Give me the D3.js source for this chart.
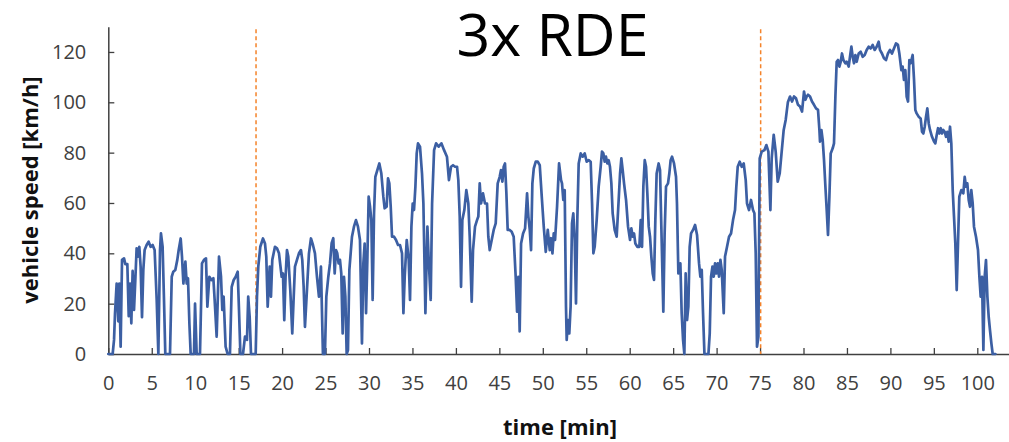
<!DOCTYPE html>
<html>
<head>
<meta charset="utf-8">
<script src="https://cdn.jsdelivr.net/npm/d3@7/dist/d3.min.js"></script>
<style>
  html, body { margin: 0; padding: 0; background: #ffffff; }
  svg { display: block; }
</style>
</head>
<body>
<svg id="chart" width="1009" height="442"></svg>
<script>
// ---- data ----
const chartTitle = "3x RDE";
const xAxisTitle = "time [min]";
const yAxisTitle = "vehicle speed [km/h]";
const xTicks = [0,5,10,15,20,25,30,35,40,45,50,55,60,65,70,75,80,85,90,95,100];
const yTicks = [0,20,40,60,80,100,120];
const phaseBoundaries = [17.0, 75.07]; // minutes
// [time (min), speed (km/h)]
const speedTrace = [
[0,0],[0.5,0],[0.66,5.6],[0.77,16],[0.96,28],[1.15,13],[1.27,28],[1.42,2.9],[1.58,37.4],[1.81,38],[1.96,35.7],[2.19,35.7],[2.35,15],[2.5,28],[2.65,12.2],[2.8,33],[2.96,17.5],[3.11,29.4],[3.26,42],[3.42,38.7],[3.57,42.6],[3.72,34.7],[3.88,14.6],[4.03,33.4],[4.18,41.3],[4.41,43.3],[4.64,44.6],[4.87,42.6],[5.1,43.3],[5.33,41.3],[5.57,21.4],[5.76,0],[5.95,41.3],[6.06,47.9],[6.25,42.6],[6.41,21.4],[6.56,0],[7.1,0],[7.3,30.7],[7.48,32.7],[7.71,33.4],[7.94,37.4],[8.1,41.3],[8.33,45.9],[8.48,38.7],[8.64,28],[8.87,36.7],[9.02,28],[9.17,30.1],[9.33,12.2],[9.48,0],[9.86,0],[9.98,20],[10.17,0],[10.55,0],[10.78,36],[11.01,37.4],[11.24,38],[11.4,18.8],[11.63,30.7],[11.86,29.4],[12.09,30.1],[12.24,21.4],
[12.47,6.9],[12.74,38.7],[12.97,30.7],[13.12,17.5],[13.27,22.8],[13.5,2.9],[13.73,0],[14.0,0],[14.2,26.7],[14.43,29.4],[14.66,30.7],[14.89,32.7],[15.04,17.5],[15.2,0],[15.5,0],[15.73,6.9],[15.96,5.6],[16.1,22.8],[16.27,14.6],[16.42,0],[16.96,0],[17.11,22.8],[17.26,34.7],[17.49,42.6],[17.8,45.9],[18.03,43.9],[18.18,38.7],[18.34,18.8],[18.57,34.7],[18.72,22.8],[18.87,37.4],[19.18,42.6],[19.41,42],[19.64,40],[19.95,30.7],[20.1,32],[20.25,13.4],[20.4,30.7],[20.56,41.3],[20.71,38.7],[20.94,25.5],[21.17,8.2],[21.32,21.4],[21.48,34.7],[21.71,37.4],[21.94,40],[22.17,41.3],[22.32,37.4],[22.48,26.7],[22.63,10.8],[22.86,25.5],[23.09,40],[23.32,45.9],[23.55,43.3],[23.78,40],[24.01,30.7],[24.24,22.8],[24.47,34.7],[24.7,0],[24.93,0],[25.09,22.8],[25.32,30.7],
[25.51,36],[25.7,44],[25.89,46],[26.05,32],[26.2,41.3],[26.35,40],[26.5,36],[26.66,37.4],[26.81,32],[26.97,8.2],[27.12,30.7],[27.28,22.8],[27.43,0],[27.58,1.6],[27.74,33.4],[27.89,40],[28.04,46.6],[28.27,50.6],[28.5,53.2],[28.73,50.6],[28.96,45.3],[29.19,4.2],[29.35,36],[29.5,43.9],[29.66,16.2],[29.81,37.4],[29.96,62.5],[30.12,58.5],[30.27,53.2],[30.42,21.5],[30.58,55.9],[30.73,70.4],[30.96,73.1],[31.19,75.7],[31.42,71.7],[31.65,62.5],[31.8,57.9],[32.03,58.5],[32.19,69.8],[32.34,67.8],[32.5,58.5],[32.65,46.6],[32.88,46.6],[33.11,45.3],[33.34,43.3],[33.57,43.3],[33.8,40],[33.96,16.2],[34.11,30.7],[34.34,45.3],[34.57,37.4],[34.72,21.5],[34.88,50.6],[35.03,59.8],[35.18,57.2],[35.34,66.5],[35.49,79.7],[35.64,83.7],[35.87,82.4],[36.1,71.7],[36.26,59.8],[36.49,16.2],[36.72,50.6],[36.87,37.4],[37.1,21.5],[37.26,59.8],[37.49,81],[37.72,83.7],[38.02,82.4],[38.33,83.7],[38.64,81],
[38.97,78.4],[39.2,69.1],[39.44,74.4],[39.67,75],[39.9,74.4],[40.13,74.4],[40.28,69.1],[40.44,54.6],[40.59,26.7],[40.74,53.2],[40.97,57.2],[41.2,65.1],[41.43,59.8],[41.59,46.6],[41.82,20.8],[41.97,41.3],[42.2,50.6],[42.43,53.2],[42.58,54.6],[42.74,67.8],[42.89,59.8],[43.12,63.8],[43.35,59.8],[43.58,59.8],[43.73,46.6],[43.89,41.3],[44.12,45.3],[44.35,49.3],[44.58,51.9],[44.81,67.8],[45.04,70.4],[45.19,73.1],[45.35,68.5],[45.5,74.4],[45.65,75.7],[45.81,63.8],[45.96,49.3],[46.19,49.3],[46.42,48.6],[46.65,46.6],[46.88,30.7],[47.04,16.8],[47.19,30.7],[47.34,9],[47.5,43.9],[47.73,47.9],[47.96,49.9],[48.19,63.8],[48.34,54.6],[48.5,49.3],[48.65,41.3],[48.8,67.8],[48.96,73.7],[49.19,76.4],[49.42,76.4],[49.65,75],[49.88,62.5],[50.11,50.6],[50.34,40.6],[50.57,49.3],[50.8,41.3],[50.95,46],[51.11,40],[51.26,47.9],[51.41,45.3],[51.64,58.5],[51.87,75.7],[52.1,69.1],
[52.21,67.8],[52.36,61.2],[52.52,65.1],[52.67,18.8],[52.75,5.6],[52.9,13.5],[53.05,8.2],[53.2,18.8],[53.36,51.9],[53.51,55.9],[53.67,45.3],[53.82,20.1],[53.97,53.2],[54.13,75.7],[54.36,79.7],[54.59,78.4],[54.82,79.7],[55.05,76.4],[55.28,77],[55.51,76.4],[55.67,59.8],[55.82,40],[55.97,42.6],[56.2,53.2],[56.43,66.5],[56.66,74.4],[56.81,80.4],[56.97,79.7],[57.12,76.4],[57.27,78.4],[57.43,75.7],[57.58,77],[57.73,74.4],[57.89,67.8],[58.04,55.9],[58.27,49.3],[58.5,46.6],[58.73,61.2],[58.89,71.7],[59.04,77.7],[59.19,73.1],[59.35,67.8],[59.58,61.2],[59.81,50.6],[60.04,45.3],[60.19,49.9],[60.35,46.6],[60.5,47.9],[60.65,43.9],[60.88,42.6],[61.11,42.6],[61.27,53.2],[61.42,42.6],[61.57,66.5],[61.73,77],[61.88,74.4],[62.03,63.8],[62.19,50.6],[62.34,46.6],[62.49,38.7],[62.65,32],[62.8,29.4],[62.95,53.2],[63.1,71.7],[63.33,75.7],[63.49,73.1],[63.64,50.6],[63.87,16.8],[64.02,47.9],[64.18,66.5],[64.41,67.8],[64.56,71.7],[64.71,77],[64.87,78.4],[65.1,75.7],[65.33,70.4],
[65.44,59.8],[65.6,32],[65.83,36],[65.98,16.2],[66.14,5.6],[66.29,0],[66.44,32],[66.6,13.5],[66.75,18.8],[66.9,42.6],[67.06,47.9],[67.29,49.3],[67.52,51.3],[67.75,47.3],[67.98,36],[68.13,30.7],[68.29,33.4],[68.44,16.2],[68.6,0],[69.06,0],[69.21,8.2],[69.36,30.7],[69.52,34.7],[69.67,30.7],[69.82,36],[69.98,32],[70.13,36],[70.28,30.7],[70.44,37.4],[70.59,33.4],[70.82,16.2],[70.97,38.7],[71.2,42.6],[71.43,46.6],[71.66,47.9],[71.89,53.2],[72.12,57.2],[72.27,66.5],[72.43,74.4],[72.66,76.4],[72.89,74.4],[73.12,75.7],[73.35,69.1],[73.5,59.8],[73.73,57.2],[73.96,61.2],[74.19,57.2],[74.35,55.9],[74.5,40],[74.65,2.9],[74.81,6.9],[74.96,77.7],[75.19,80.4],[75.5,81],[75.73,83],[75.96,80.4],[76.19,57.2],[76.34,77.7],[76.57,87.1],[76.8,80.4],[77.03,68.5],[77.26,71.7],[77.49,80.4],[77.72,89],[77.95,93],[78.2,100],
[78.45,102.3],[78.68,100.3],[78.91,102.3],[79.14,101.6],[79.37,99],[79.6,98.3],[79.83,96.3],[80.06,104.3],[80.22,101],[80.37,102.3],[80.52,103],[80.75,102.3],[80.98,100.3],[81.21,99],[81.44,97.6],[81.67,97],[81.83,89],[81.9,84.4],[82.06,89],[82.21,85],[82.36,77.1],[82.52,66.5],[82.67,57.2],[82.82,47.3],[82.98,62.5],[83.13,79.7],[83.36,81.7],[83.51,83.7],[83.67,102.3],[83.82,116.1],[83.97,116.8],[84.13,114.2],[84.28,116.1],[84.43,119.4],[84.59,116.8],[84.82,115.5],[84.97,116.1],[85.2,114.2],[85.35,118.1],[85.51,122.1],[85.66,118.1],[85.81,115.5],[85.97,118.8],[86.12,116.1],[86.35,119.4],[86.58,120.1],[86.81,118.1],[87.04,118.8],[87.27,120.8],[87.5,122.1],[87.73,121.4],[87.96,122.8],[88.19,120.8],[88.42,122.1],[88.65,124.1],[88.8,120.8],[89.03,119.4],[89.26,117.5],[89.49,116.8],[89.72,119.4],[89.95,120.8],[90.18,119.4],[90.41,121.4],[90.64,123.4],[90.87,122.8],[91.03,119.4],
[91.26,112.8],[91.41,114.2],[91.56,108.9],[91.72,112.8],[91.87,102.3],[92.03,100.3],[92.18,116.8],[92.33,115.5],[92.56,118.8],[92.72,108.9],[92.87,96.9],[93.02,95.6],[93.25,94.3],[93.48,93.6],[93.64,88.3],[93.79,87.6],[93.95,90.3],[94.1,94.3],[94.25,97.6],[94.41,91.6],[94.56,89],[94.79,86.3],[95.02,84.4],[95.17,83.7],[95.33,87],[95.48,89.7],[95.63,87.6],[95.79,89.7],[95.94,87.6],[96.09,89],[96.25,88.3],[96.4,86.3],[96.55,88.3],[96.71,84.4],[96.86,90.3],[97.01,83.7],[97.17,65.1],[97.32,54.6],[97.47,44],[97.63,25.4],[97.78,44],[97.93,62.5],[98.16,65.1],[98.39,63.8],[98.55,70.4],[98.7,66.5],[98.85,67.8],[99.01,61.2],[99.16,58.5],[99.31,65.1],[99.47,59.8],[99.62,50.6],[99.85,46.6],[100.08,41.3],[100.24,30.7],[100.39,22.8],[100.54,30.7],[100.7,1.6],[100.85,30.7],[101.0,37.3],[101.16,22.8],[101.31,14.8],[101.46,9.5],[101.62,4.2],[101.77,0],[102.08,0]
];

// ---- layout ----
const W = 1009, H = 442;
const x0 = 108.3, pxPerMin = 8.69;
const yBottom = 354, yTop = 26.8;
const svg = d3.select("#chart");
svg.append("rect").attr("width", W).attr("height", H).attr("fill", "#ffffff");

const x = d3.scaleLinear().domain([0, 105]).range([x0, x0 + 105 * pxPerMin]);
const y = d3.scaleLinear().domain([0, 130]).range([yBottom, yTop]);

const axisColor = "#404040";
const tickFont = "'Open Sans', sans-serif";

// x axis (ticks inside)
const gx = svg.append("g").attr("transform", `translate(0,${yBottom})`)
  .call(d3.axisBottom(x).tickValues(xTicks).tickSizeInner(-6).tickSizeOuter(0).tickPadding(22).tickFormat(d3.format("d")));
gx.select(".domain").attr("stroke", axisColor).attr("stroke-width", 1.5);
gx.selectAll(".tick line").attr("stroke", axisColor).attr("stroke-width", 1.3);
gx.selectAll(".tick text").attr("font-family", tickFont).attr("font-size", 20).attr("fill", "#404040");

// y axis (ticks inside)
const gy = svg.append("g").attr("transform", `translate(${x0},0)`)
  .call(d3.axisLeft(y).tickValues(yTicks).tickSizeInner(-6).tickSizeOuter(0).tickPadding(22).tickFormat(d3.format("d")));
gy.select(".domain").attr("stroke", axisColor).attr("stroke-width", 1.5);
gy.selectAll(".tick line").attr("stroke", axisColor).attr("stroke-width", 1.3);
gy.selectAll(".tick text").attr("font-family", tickFont).attr("font-size", 20).attr("fill", "#404040");

// phase boundary dashed lines
svg.append("g").selectAll("line").data(phaseBoundaries).join("line")
  .attr("x1", d => x(d)).attr("x2", d => x(d))
  .attr("y1", y(129)).attr("y2", y(0))
  .attr("stroke", "#F4832A").attr("stroke-width", 1.5).attr("stroke-dasharray", "4,3");

// speed trace
const line = d3.line().x(d => x(d[0])).y(d => y(d[1])).curve(d3.curveLinear);
svg.append("path").datum(speedTrace)
  .attr("d", line).attr("fill", "none")
  .attr("stroke", "#3C5FA3").attr("stroke-width", 2.7)
  .attr("stroke-linejoin", "round").attr("stroke-linecap", "round");

// titles
svg.append("text").text(chartTitle)
  .attr("x", 552.5).attr("y", 56).attr("text-anchor", "middle")
  .attr("font-family", "'Open Sans', sans-serif").attr("font-size", 59).attr("fill", "#000");

svg.append("text").text(xAxisTitle)
  .attr("x", 560).attr("y", 435).attr("text-anchor", "middle")
  .attr("font-family", tickFont).attr("font-weight", "bold").attr("font-size", 22).attr("fill", "#111");

svg.append("text").text(yAxisTitle)
  .attr("transform", "translate(38,190) rotate(-90)").attr("text-anchor", "middle")
  .attr("font-family", tickFont).attr("font-weight", "bold").attr("font-size", 22).attr("fill", "#111");
</script>
</body>
</html>
